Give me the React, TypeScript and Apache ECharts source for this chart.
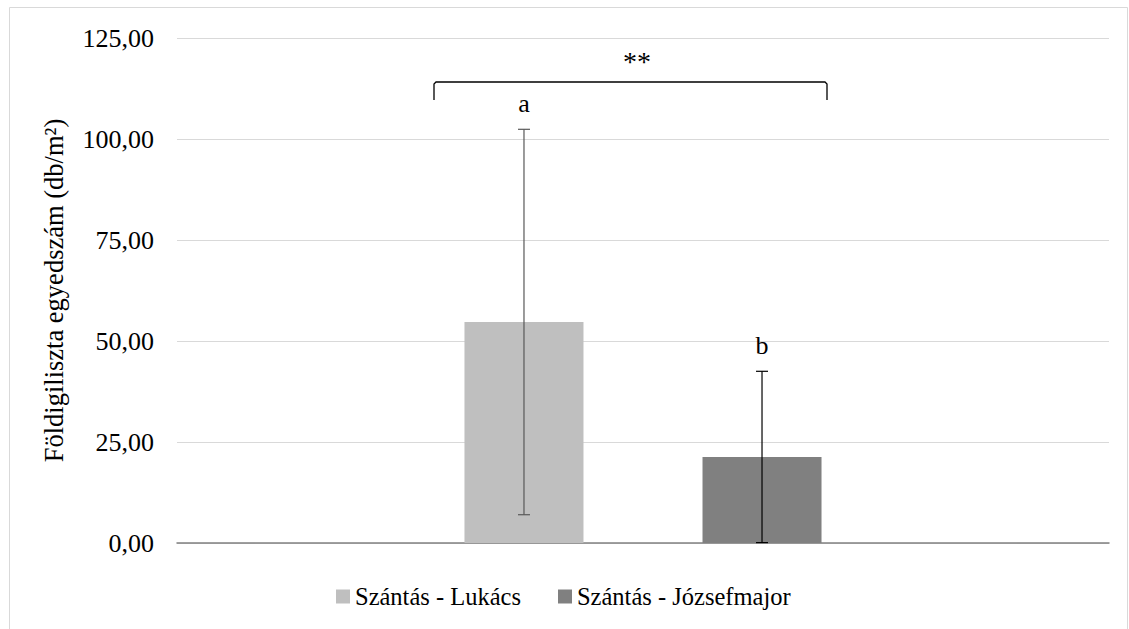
import React, { useEffect, useRef } from "react";
import * as echarts from "echarts";

const categories = [""];
const seriesNames = ["Szántás - Lukács", "Szántás - Józsefmajor"];
const means = [54.7, 21.3];
const sds = [47.7, 21.2];
const letters = ["a", "b"];
const barColors = ["#BFBFBF", "#808080"];
const errColors = ["#595959", "#000000"];
const yMin = 0;
const yMax = 125;
const yInterval = 25;
const yTitle = "Földigiliszta egyedszám (db/m²)";
const sigLabel = "**";

const FONT = "Times New Roman";
const BAR_FRAC = 0.1277;

export default function App() {
  const ref = useRef<HTMLDivElement>(null);
  useEffect(() => {
    document.body.style.margin = "0";
    document.body.style.overflow = "hidden";
    const chart = echarts.init(ref.current!, null, { renderer: "svg" });
    const errData = means.map((m, i) => [0, m - sds[i], m + sds[i], i]);
    chart.setOption({
      animation: false,
      backgroundColor: "#ffffff",
      textStyle: { fontFamily: FONT },
      grid: { left: 177, right: 20, top: 38, bottom: 86, containLabel: false },
      legend: {
        data: seriesNames,
        left: 331,
        top: 579,
        itemWidth: 14,
        itemHeight: 14,
        itemGap: 37,
        icon: "rect",
        textStyle: { fontFamily: FONT, fontSize: 24.5, color: "#000000" },
      },
      xAxis: {
        type: "category",
        data: categories,
        axisLine: { show: true, lineStyle: { color: "#808080", width: 1.5 } },
        axisTick: { show: false },
        axisLabel: { show: false },
      },
      yAxis: {
        type: "value",
        min: yMin,
        max: yMax,
        interval: yInterval,
        name: yTitle,
        nameLocation: "middle",
        nameGap: 110,
        nameTextStyle: { fontFamily: FONT, fontSize: 26.5, color: "#000000" },
        axisLine: { show: false },
        axisTick: { show: false },
        splitLine: { lineStyle: { color: "#D9D9D9", width: 1 } },
        axisLabel: {
          fontFamily: FONT,
          fontSize: 26,
          color: "#000000",
          margin: 23,
          formatter: (v: number) => v.toFixed(2).replace(".", ","),
        },
      },
      series: [
        ...seriesNames.map((name, i) => ({
          name,
          type: "bar",
          data: [means[i]],
          barWidth: (BAR_FRAC * 100).toFixed(2) + "%",
          barGap: "100%",
          itemStyle: { color: barColors[i] },
        })),
        {
          type: "custom",
          data: errData,
          encode: { x: 0, y: [1, 2] },
          z: 10,
          renderItem: (params: any, api: any) => {
            const idx = api.value(3);
            const band = api.size([1, 0])[0];
            const w = band * BAR_FRAC;
            const cx = api.coord([0, 0])[0] + (idx === 0 ? -w : w);
            const yTop = api.coord([0, api.value(2)])[1];
            const yBot = api.coord([0, Math.max(0, api.value(1))])[1];
            const c = errColors[idx];
            const st = { stroke: c, lineWidth: 1.2 };
            return {
              type: "group",
              children: [
                { type: "line", shape: { x1: cx, y1: yTop, x2: cx, y2: yBot }, style: st },
                { type: "line", shape: { x1: cx - 6, y1: yTop, x2: cx + 6, y2: yTop }, style: st },
                { type: "line", shape: { x1: cx - 6, y1: yBot, x2: cx + 6, y2: yBot }, style: st },
                {
                  type: "text",
                  style: {
                    text: letters[idx],
                    x: cx,
                    y: yTop - 13,
                    align: "center",
                    verticalAlign: "bottom",
                    fontFamily: FONT,
                    fontSize: 26,
                    fill: "#000000",
                  },
                },
              ],
            };
          },
        },
      ],
      graphic: [
        {
          type: "rect",
          shape: { x: 9.5, y: 7.5, width: 1118, height: 640 },
          style: { fill: "none", stroke: "#D9D9D9", lineWidth: 1 },
          silent: true,
        },
        {
          type: "polyline",
          shape: {
            points: [
              [434, 100],
              [434, 84],
              [436, 82],
              [825, 82],
              [827, 84],
              [827, 100],
            ],
          },
          style: { stroke: "#000000", lineWidth: 1.3, fill: "none" },
        },
        {
          type: "text",
          x: 637,
          y: 61,
          style: {
            text: sigLabel,
            align: "center",
            verticalAlign: "middle",
            fontFamily: FONT,
            fontSize: 28,
            fill: "#000000",
          },
        },
      ],
    });
    return () => chart.dispose();
  }, []);
  return <div ref={ref} style={{ width: 1129, height: 629 }} />;
}
